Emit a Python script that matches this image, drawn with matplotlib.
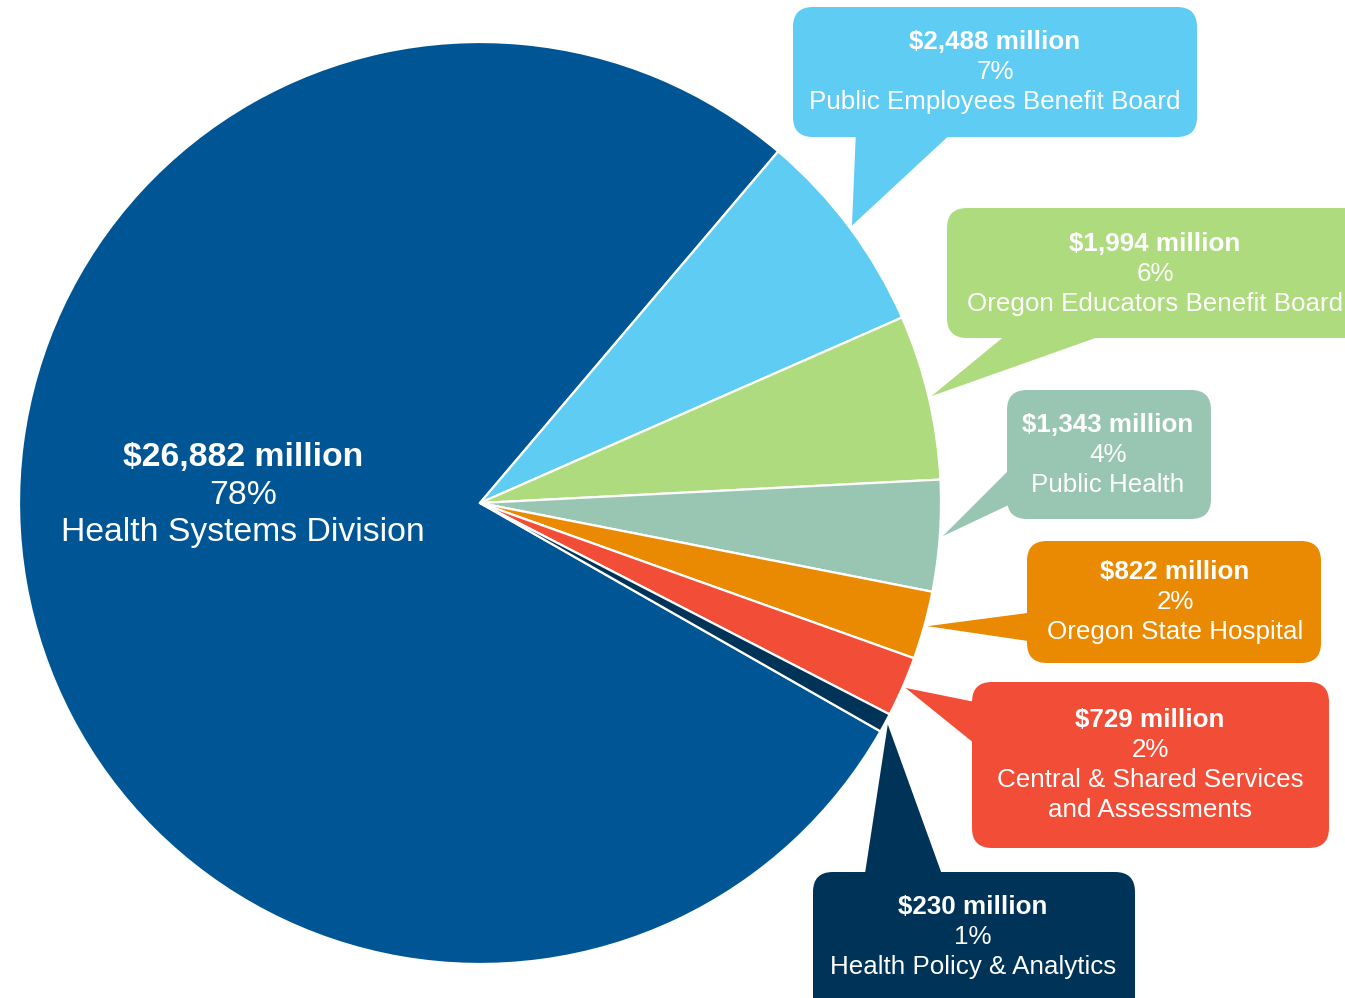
import matplotlib
matplotlib.use("Agg")
import matplotlib.pyplot as plt
from matplotlib.patches import FancyBboxPatch, Polygon
import numpy as np

# ---- data ----
names = ["Health Systems Division", "Public Employees Benefit Board",
         "Oregon Educators Benefit Board", "Public Health",
         "Oregon State Hospital", "Central & Shared Services\nand Assessments",
         "Health Policy & Analytics"]
values = [26882, 2488, 1994, 1343, 822, 729, 230]
amount_labels = ["$26,882 million", "$2,488 million", "$1,994 million",
                 "$1,343 million", "$822 million", "$729 million", "$230 million"]
pct_labels = ["78%", "7%", "6%", "4%", "2%", "2%", "1%"]
colors = ["#005695", "#5FCCF3", "#AEDB7D", "#98C6B2", "#E98A02", "#F24D36", "#003358"]

W, H = 1345, 998
fig = plt.figure(figsize=(W / 100, H / 100), dpi=100)
ax = fig.add_axes([0, 0, 1, 1])

def Y(y):
    return H - y

cx, cy, R = 480, Y(503), 461
total = sum(values)
start = 49.7 + 360 * values[0] / total  # HSD ends at upper right boundary
wedges, _ = ax.pie(values, colors=colors, startangle=start, counterclock=False,
                   radius=R, center=(cx, cy),
                   wedgeprops=dict(edgecolor="white", linewidth=1.6))
ax.set_aspect("auto")
ax.set_xlim(0, W)
ax.set_ylim(0, H)
ax.axis("off")

narrow = ["Liberation Sans Narrow", "Liberation Sans", "DejaVu Sans"]

# callout layout: box (x0, y0, x1, y1) in pixel coords (y down), tail base points, text center x, first line y
callouts = {
    1: dict(box=(793, 7, 1197, 137), base=[(856, 130), (955, 130)], tx=995, ty=42),
    2: dict(box=(947, 208, 1375, 338), base=[(1012, 330), (1118, 330)], tx=1155, ty=244),
    3: dict(box=(1007, 390, 1211, 519), base=[(1015, 464), (1015, 502)], tx=1108, ty=425),
    4: dict(box=(1027, 541, 1321, 663), base=[(1035, 612), (1035, 642)], tx=1175, ty=572),
    5: dict(box=(972, 682, 1329, 848), base=[(980, 703), (980, 748)], tx=1150, ty=720),
    6: dict(box=(813, 872, 1135, 1030), base=[(864, 880), (944, 880)], tx=973, ty=907),
}

line_h = 30
for i, c in callouts.items():
    w = wedges[i]
    mid = np.deg2rad((w.theta1 + w.theta2) / 2)
    tip = (cx + (R + 3) * np.cos(mid), cy + (R + 3) * np.sin(mid))
    x0, y0, x1, y1 = c["box"]
    box = FancyBboxPatch((x0, Y(y1)), x1 - x0, y1 - y0,
                         boxstyle="round,pad=0,rounding_size=20",
                         facecolor=colors[i], edgecolor="none", zorder=5)
    ax.add_patch(box)
    pts = [(px, Y(py)) for px, py in c["base"]] + [tip]
    ax.add_patch(Polygon(pts, closed=True, facecolor=colors[i],
                         edgecolor="none", zorder=5))
    lines = [amount_labels[i], pct_labels[i]] + names[i].split("\n")
    for k, t in enumerate(lines):
        ax.text(c["tx"], Y(c["ty"] + k * line_h), t, ha="center", va="center",
                color="white", fontsize=18.7, family=narrow,
                fontweight="bold" if k == 0 else "normal", zorder=6)

# main slice label
main_lines = [amount_labels[0], pct_labels[0], names[0]]
for k, t in enumerate(main_lines):
    ax.text(243, Y(457 + k * 38), t, ha="center", va="center", color="white",
            fontsize=24.3, family=["Liberation Sans", "DejaVu Sans"],
            fontweight="bold" if k == 0 else "normal", zorder=6)

fig.savefig("out.png", dpi=100, facecolor="white")
